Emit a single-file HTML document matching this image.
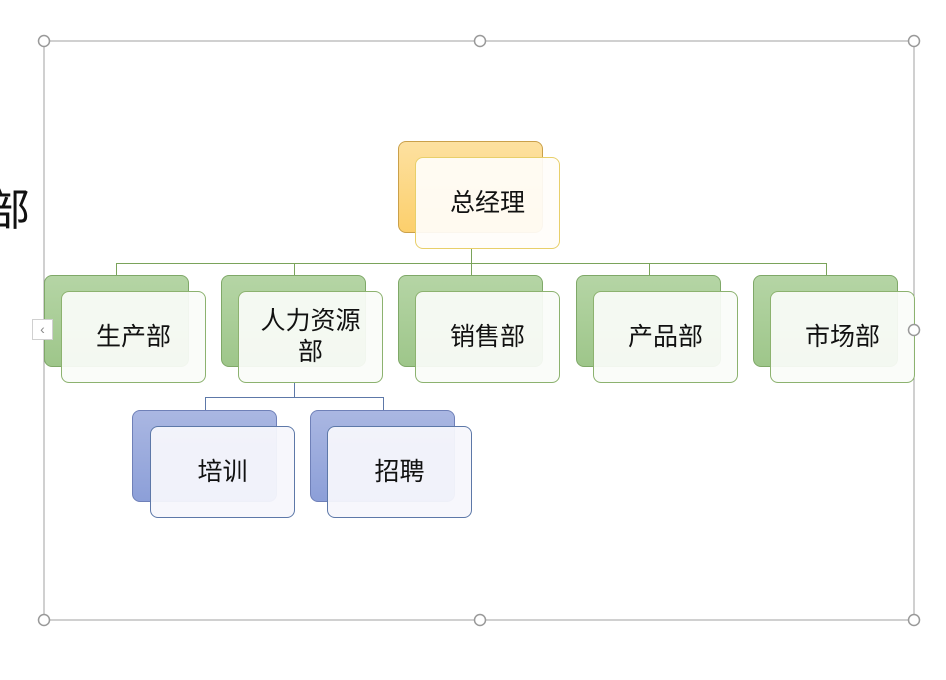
<!DOCTYPE html>
<html><head><meta charset="utf-8">
<style>
html,body{margin:0;padding:0;background:#fff;width:946px;height:680px;overflow:hidden;position:relative;font-family:"Liberation Sans","Noto Sans CJK SC",sans-serif;}
.b{position:absolute;width:145px;height:92px;border-radius:8px;box-sizing:border-box;}
.f{position:absolute;width:145px;height:92px;border-radius:8px;box-sizing:border-box;display:flex;align-items:center;justify-content:center;text-align:center;font-size:25px;color:#111;line-height:31px;}
.gb{background:linear-gradient(#b5d5a5,#9ec68a);border:1px solid #7fa868;}
.gf{background:rgba(250,252,249,0.93);border:1px solid #8cb26f;}
.yb{background:linear-gradient(#fde1a0,#fccf6c);border:1px solid #caa04a;}
.yf{background:rgba(255,253,250,0.93);border:1px solid #e8cf6a;}
.bb{background:linear-gradient(#aab7e2,#8c9fd8);border:1px solid #6f80b8;}
.bf{background:rgba(246,247,252,0.94);border:1px solid #5d78a8;}
</style></head><body>
<div style="position:absolute;left:-14px;top:178px;font-size:44px;line-height:56px;color:#111;font-family:'Noto Sans CJK SC',sans-serif;">部</div>
<svg width="946" height="680" style="position:absolute;left:0;top:0">
<rect x="44" y="41" width="870" height="579" fill="none" stroke="#a0a0a0" stroke-width="1"/>
<g stroke="#7aa35a" stroke-width="1" fill="none">
<line x1="471.5" y1="249" x2="471.5" y2="263.5"/>
<line x1="116" y1="263.5" x2="826" y2="263.5"/>
<line x1="116.5" y1="263" x2="116.5" y2="275"/>
<line x1="294.5" y1="263" x2="294.5" y2="275"/>
<line x1="471.5" y1="263" x2="471.5" y2="275"/>
<line x1="649.5" y1="263" x2="649.5" y2="275"/>
<line x1="826.5" y1="263" x2="826.5" y2="275"/>
</g>
<g stroke="#5d78a8" stroke-width="1" fill="none">
<line x1="294.5" y1="383" x2="294.5" y2="397.5"/>
<line x1="205" y1="397.5" x2="383" y2="397.5"/>
<line x1="205.5" y1="397" x2="205.5" y2="410"/>
<line x1="383.5" y1="397" x2="383.5" y2="410"/>
</g>
</svg>
<div class="b yb" style="left:398px;top:141px"></div><div class="f yf" style="left:415px;top:157px">总经理</div>
<div class="b gb" style="left:44px;top:275px"></div><div class="f gf" style="left:61px;top:291px">生产部</div>
<div class="b gb" style="left:221px;top:275px"></div><div class="f gf" style="left:238px;top:291px;padding:0 14px">人力资源部</div>
<div class="b gb" style="left:398px;top:275px"></div><div class="f gf" style="left:415px;top:291px">销售部</div>
<div class="b gb" style="left:576px;top:275px"></div><div class="f gf" style="left:593px;top:291px">产品部</div>
<div class="b gb" style="left:753px;top:275px"></div><div class="f gf" style="left:770px;top:291px">市场部</div>
<div class="b bb" style="left:132px;top:410px"></div><div class="f bf" style="left:150px;top:426px">培训</div>
<div class="b bb" style="left:310px;top:410px"></div><div class="f bf" style="left:327px;top:426px">招聘</div>
<div style="position:absolute;left:32px;top:319px;width:21px;height:21px;background:#fff;border:1px solid #d0d0d0;box-sizing:border-box;color:#888;font-size:14px;line-height:19px;text-align:center;">‹</div>
<svg width="946" height="680" style="position:absolute;left:0;top:0">
<g fill="#fff" stroke="#999" stroke-width="1.5">
<circle cx="44" cy="41" r="5.5"/><circle cx="480" cy="41" r="5.5"/><circle cx="914" cy="41" r="5.5"/>
<circle cx="914" cy="330" r="5.5"/>
<circle cx="44" cy="620" r="5.5"/><circle cx="480" cy="620" r="5.5"/><circle cx="914" cy="620" r="5.5"/>
</g>
</svg>
</body></html>
